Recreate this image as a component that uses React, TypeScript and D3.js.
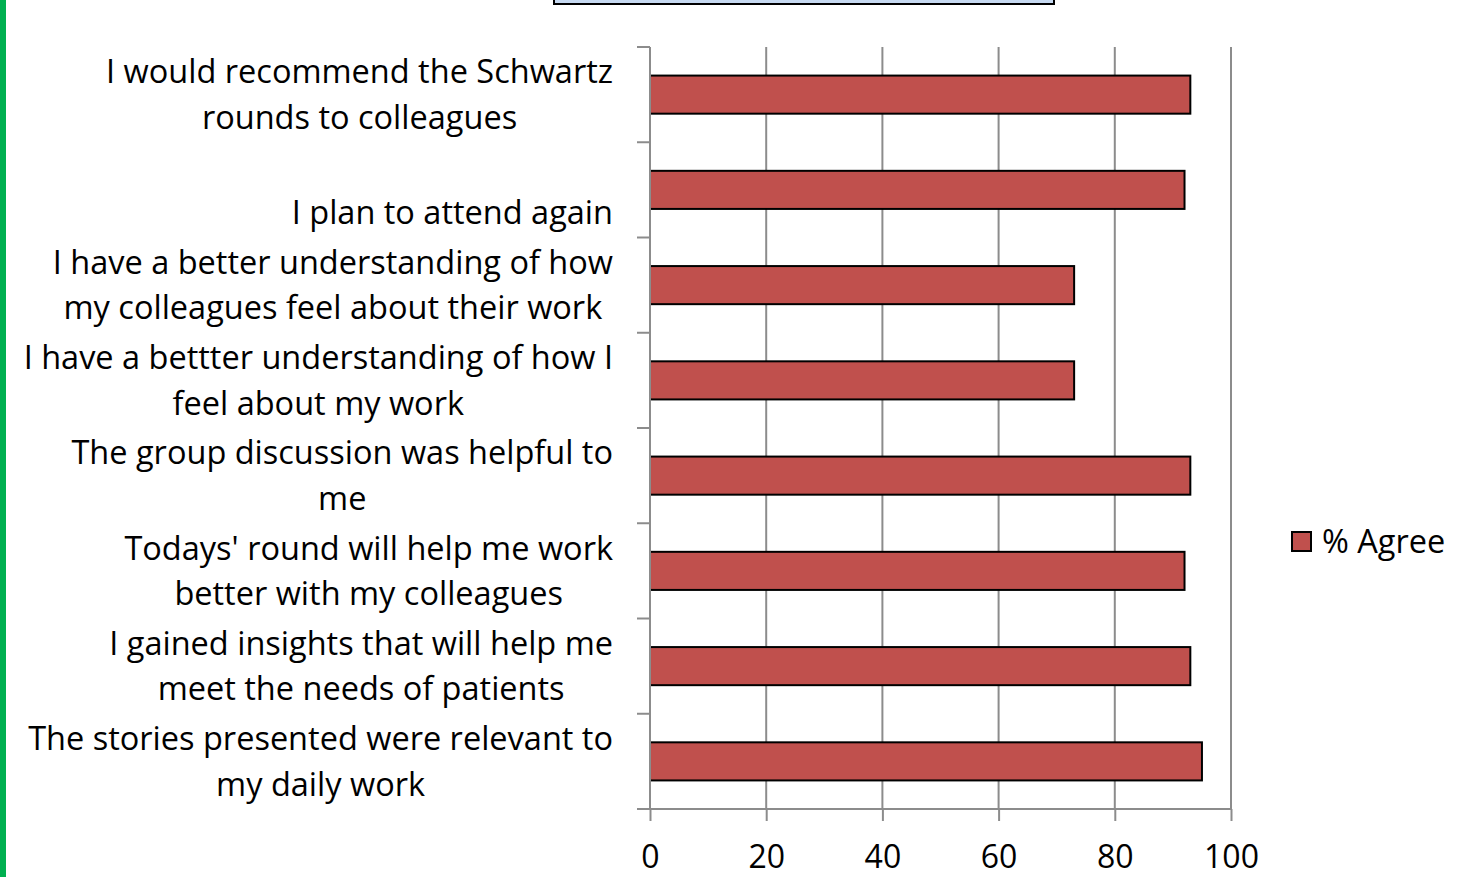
import React, { useEffect, useRef } from 'react';
import * as d3 from 'd3';

// survey statements, top to bottom (each item = wrapped lines of the label)
const statements: string[][] = [
  ['I would recommend the Schwartz', 'rounds to colleagues'],
  ['', 'I plan to attend again'],
  ['I have a better understanding of how', 'my colleagues feel about their work'],
  ['I have a bettter understanding of how I', 'feel about my work'],
  ['The group discussion was helpful to', 'me'],
  ["Todays' round will help me work", 'better with my colleagues'],
  ['I gained insights that will help me', 'meet the needs of patients'],
  ['The stories presented were relevant to', 'my daily work'],
];
const agreePct = [93, 92, 73, 73, 93, 92, 93, 95];
const xTicks = [0, 20, 40, 60, 80, 100];
const seriesName = '% Agree';

const W = 1468, H = 877;
const FONT = '"Open Sans", sans-serif';
const FS = 32.5;

export default function App() {
  const svgRef = useRef<SVGSVGElement>(null);

  useEffect(() => {
    const svg = d3.select(svgRef.current);
    svg.selectAll('*').remove();

    const x = d3.scaleLinear().domain([0, 100]).range([650, 1231]);
    const ids = statements.map((_, i) => String(i));
    const y = d3.scaleBand().domain(ids).range([47, 809]).paddingInner(0.6).paddingOuter(0.3);
    const step = y.step();

    // green page edge + title box remnant
    svg.append('rect').attr('x', 0).attr('y', 0).attr('width', 6).attr('height', H).attr('fill', '#00b050');
    svg.append('rect').attr('x', 554).attr('y', -10).attr('width', 500).attr('height', 14)
      .attr('fill', '#c6d9f1').attr('stroke', '#000').attr('stroke-width', 2);

    // gridlines
    svg.append('g').selectAll('line').data(xTicks.slice(1)).join('line')
      .attr('x1', d => x(d)).attr('x2', d => x(d)).attr('y1', 47).attr('y2', 809)
      .attr('stroke', '#8c8c8c').attr('stroke-width', 2);

    // bars
    svg.append('g').selectAll('rect').data(agreePct).join('rect')
      .attr('x', x(0)).attr('y', (_, i) => y(String(i))!)
      .attr('width', d => x(d) - x(0)).attr('height', y.bandwidth())
      .attr('fill', '#c0504d').attr('stroke', '#000').attr('stroke-width', 2);

    // y axis
    const ya = svg.append('g').attr('stroke', '#8c8c8c').attr('stroke-width', 2);
    ya.append('line').attr('x1', x(0)).attr('x2', x(0)).attr('y1', 47).attr('y2', 809);
    ya.selectAll('line.t').data(d3.range(statements.length + 1)).join('line').attr('class', 't')
      .attr('x1', 637).attr('x2', x(0)).attr('y1', i => 47 + i * step).attr('y2', i => 47 + i * step);

    // x axis
    const xa = svg.append('g').attr('transform', 'translate(0,809)')
      .call(d3.axisBottom(x).tickValues(xTicks).tickSize(12).tickSizeOuter(0).tickPadding(24));
    xa.select('.domain').attr('stroke', '#8c8c8c').attr('stroke-width', 2).attr('d', `M637,0H${x(100)}`);
    xa.selectAll('.tick line').attr('stroke', '#8c8c8c').attr('stroke-width', 2);
    xa.selectAll('.tick text').attr('font-family', FONT).attr('font-size', 32).attr('fill', '#000');

    // category labels: block right-aligned at 613, lines centred within block
    const lg = svg.append('g').attr('font-family', FONT).attr('font-size', FS).attr('fill', '#000');
    statements.forEach((lines, i) => {
      const cy = y(String(i))! + y.bandwidth() / 2;
      const nodes = lines.map((ln, j) =>
        lg.append('text').attr('y', cy + (j - (lines.length - 1) / 2) * 45.5).attr('dy', '0.35em')
          .attr('text-anchor', 'middle').text(ln));
      const maxW = d3.max(nodes, n => (n.node() as SVGTextElement).getComputedTextLength()) || 0;
      nodes.forEach(n => n.attr('x', 613 - maxW / 2));
    });

    // legend
    const leg = svg.append('g').attr('transform', 'translate(1292,532)');
    leg.append('rect').attr('width', 19).attr('height', 19).attr('fill', '#c0504d')
      .attr('stroke', '#000').attr('stroke-width', 2);
    leg.append('text').attr('x', 30).attr('y', 10).attr('dy', '0.35em')
      .attr('font-family', FONT).attr('font-size', FS).text(seriesName);
  }, []);

  return (
    <div style={{ position: 'absolute', left: 0, top: 0 }}>
      <svg ref={svgRef} width={W} height={H} style={{ display: 'block', background: '#fff' }} />
    </div>
  );
}
